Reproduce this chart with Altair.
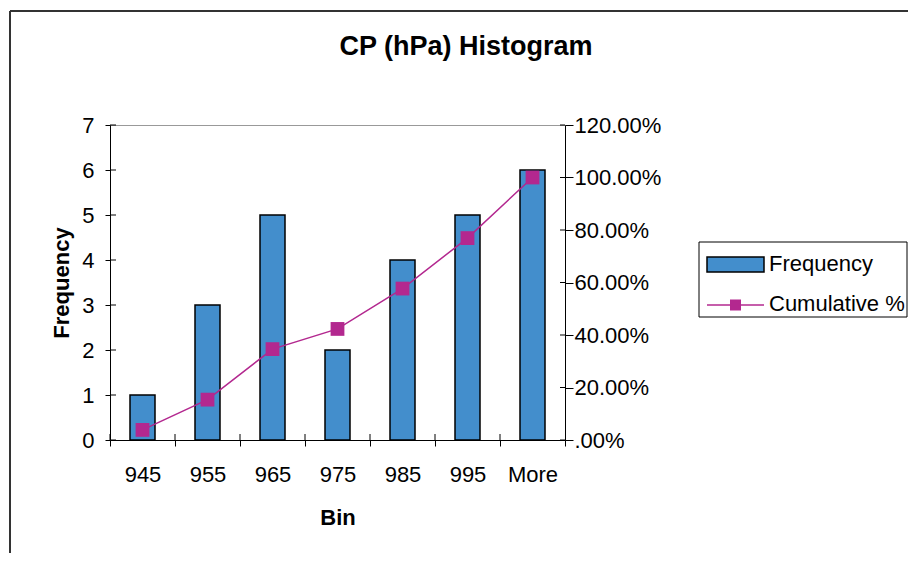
import altair as alt
import pandas as pd

# ---- data ----
bins = ["945", "955", "965", "975", "985", "995", "More"]
frequency = [1, 3, 5, 2, 4, 5, 6]
cumulative = [0.0385, 0.1538, 0.3462, 0.4231, 0.5769, 0.7692, 1.0]
left_ticks = [0, 1, 2, 3, 4, 5, 6, 7]
right_ticks = [0.0, 0.2, 0.4, 0.6, 0.8, 1.0, 1.2]

title_text = "CP (hPa) Histogram"
x_title = "Bin"
y_title = "Frequency"
legend_labels = ["Frequency", "Cumulative %"]

BLUE = "#438ECC"
MAGENTA = "#B3288F"
FONT = "Liberation Sans"
FS = 22
W, H = 455, 315

df = pd.DataFrame({"bin": bins, "freq": frequency, "cum": cumulative})
lt = pd.DataFrame({"v": left_ticks})
rt = pd.DataFrame({"v": right_ticks})
dummy = pd.DataFrame({"d": [0]})

x_axis = alt.Axis(title=x_title, labelAngle=0, tickBand="extent", tickSize=6,
                  labelPadding=18, titlePadding=22, labelFontSize=FS,
                  titleFontSize=FS, titleFontWeight="bold")
x_scale = alt.Scale(paddingInner=0, paddingOuter=0)

yl_axis = alt.Axis(title=y_title, orient="left", values=left_ticks, tickSize=5,
                   labelPadding=11, titlePadding=8, labelFontSize=FS,
                   titleFontSize=FS, titleFontWeight="bold")
yl_scale = alt.Scale(domain=[0, 7], nice=False)

yr_axis = alt.Axis(title=None, orient="right", values=right_ticks, tickSize=8,
                   labelPadding=1, labelFontSize=FS,
                   labelExpr="datum.value == 0 ? '.00%' : format(datum.value, '.2%')")
yr_scale = alt.Scale(domain=[0, 1.2], nice=False)

bars = alt.Chart(df).mark_bar(size=25, color=BLUE, stroke="black", strokeWidth=1.5).encode(
    x=alt.X("bin:N", sort=bins, scale=x_scale, axis=x_axis),
    y=alt.Y("freq:Q", scale=yl_scale, axis=yl_axis),
)
left_inner = alt.Chart(lt).mark_rule(color="black", strokeWidth=1).encode(
    y=alt.Y("v:Q", scale=yl_scale, axis=yl_axis),
    x=alt.value(0), x2=alt.value(6),
)
x_inner = alt.Chart(df).mark_rule(color="black", strokeWidth=1).encode(
    x=alt.X("bin:N", sort=bins, scale=x_scale, axis=x_axis, bandPosition=0),
    y=alt.value(H - 6), y2=alt.value(H),
)
left = alt.layer(bars, left_inner, x_inner)

line = alt.Chart(df).mark_line(color=MAGENTA, strokeWidth=1.5).encode(
    x=alt.X("bin:N", sort=bins, scale=x_scale, axis=x_axis),
    y=alt.Y("cum:Q", scale=yr_scale, axis=yr_axis),
)
pts = alt.Chart(df).mark_point(shape="square", filled=True, size=190, color=MAGENTA, opacity=1).encode(
    x=alt.X("bin:N", sort=bins, scale=x_scale, axis=x_axis),
    y=alt.Y("cum:Q", scale=yr_scale, axis=yr_axis),
)
right_inner = alt.Chart(rt).mark_rule(color="black", strokeWidth=1).encode(
    y=alt.Y("v:Q", scale=yr_scale, axis=yr_axis),
    x=alt.value(W - 5), x2=alt.value(W),
)
right = alt.layer(line, pts, right_inner)

# ---- decorations: outer frame, title, legend ----
base = alt.Chart(dummy)
frame_left = base.mark_rule(color="#333", strokeWidth=2).encode(
    x=alt.value(-100), y=alt.value(-114), y2=alt.value(H + 300))
frame_top = base.mark_rule(color="#333", strokeWidth=2).encode(
    x=alt.value(-100), x2=alt.value(W + 400), y=alt.value(-114))
title = base.mark_text(text=title_text, font=FONT, fontSize=27, fontWeight="bold",
                       align="center", baseline="middle", color="black").encode(
    x=alt.value(356), y=alt.value(-78))

leg_box = base.mark_rect(fill="white", stroke="black", strokeWidth=1).encode(
    x=alt.value(589), x2=alt.value(797), y=alt.value(117), y2=alt.value(192))
leg_bar = base.mark_rect(fill=BLUE, stroke="black", strokeWidth=1.5).encode(
    x=alt.value(597), x2=alt.value(654), y=alt.value(132), y2=alt.value(147))
leg_line = base.mark_rule(color=MAGENTA, strokeWidth=1.5).encode(
    x=alt.value(597), x2=alt.value(654), y=alt.value(180))
leg_pt = base.mark_point(shape="square", filled=True, size=121, color=MAGENTA, opacity=1).encode(
    x=alt.value(625.5), y=alt.value(180))
leg_t1 = base.mark_text(text=legend_labels[0], font=FONT, fontSize=FS, align="left",
                        baseline="middle", color="black").encode(x=alt.value(659), y=alt.value(139))
leg_t2 = base.mark_text(text=legend_labels[1], font=FONT, fontSize=FS, align="left",
                        baseline="middle", color="black").encode(x=alt.value(659), y=alt.value(179))

chart = alt.layer(
    left, right, frame_left, frame_top, title,
    leg_box, leg_bar, leg_line, leg_pt, leg_t1, leg_t2,
).resolve_scale(y="independent").properties(
    width=W, height=H,
    autosize=alt.AutoSizeParams(type="none"),
    padding={"left": 102, "top": 117, "right": 343, "bottom": 113},
    background="white",
).configure_view(
    stroke="#999", strokeWidth=1
).configure_axis(
    grid=False, domainColor="black", tickColor="black", labelColor="black",
    titleColor="black", labelFont=FONT, titleFont=FONT, domainWidth=1, tickWidth=1,
)

chart.save("out.html", embed_options={"renderer": "svg", "actions": False})
